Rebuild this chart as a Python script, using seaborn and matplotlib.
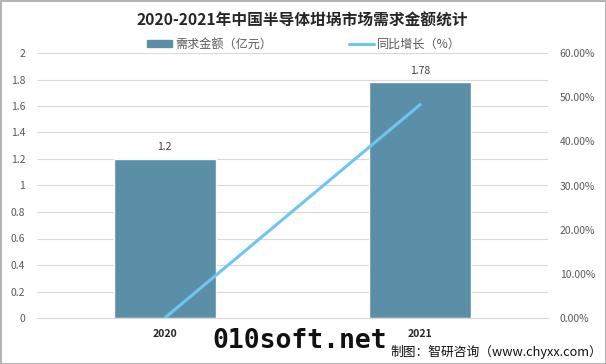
import matplotlib
matplotlib.use("Agg")
import matplotlib.pyplot as plt
import seaborn as sns
import pandas as pd
from matplotlib.patches import Rectangle
from matplotlib.lines import Line2D
from matplotlib.ticker import FuncFormatter, MultipleLocator

years = ["2020", "2021"]
demand = [1.2, 1.78]
growth = [0.0, 48.33]
demand_labels = ["1.2", "1.78"]

sns.set_style("white")
plt.rcParams['font.family'] = ['Noto Sans CJK SC', 'DejaVu Sans']

fig = plt.figure(figsize=(6.06, 3.64), dpi=100)
ax = fig.add_axes([37/606, 1-318/364, 511/606, 265/364])

df = pd.DataFrame({"year": years, "demand": demand})
bar_color = "#5B8FA7"
line_color = "#6DC6EE"
sns.barplot(data=df, x="year", y="demand", color=bar_color, width=0.4,
            saturation=1, ax=ax, zorder=2)
ax.set_xlim(-0.5, 1.5)
ax.set_ylim(0, 2)
ax.yaxis.set_major_locator(MultipleLocator(0.2))
ax.yaxis.set_major_formatter(FuncFormatter(lambda v, p: f"{v:.1f}".rstrip("0").rstrip(".") if v > 1e-9 else "0"))
ax.grid(axis="y", color="#D9D9D9", lw=0.8, zorder=0)
ax.set_xlabel("")
ax.set_ylabel("")
for s in ["top", "right", "left"]:
    ax.spines[s].set_visible(False)
ax.spines["bottom"].set_color("#D9D9D9")
ax.tick_params(axis="y", length=0, labelsize=7.5, labelcolor="#595959", pad=8.5)
ax.tick_params(axis="x", length=0, labelsize=7.5, pad=8)
for lab in ax.get_xticklabels():
    lab.set_fontweight("bold")
    lab.set_color("#262626")

for i, (v, t) in enumerate(zip(demand, demand_labels)):
    ax.text(i, v + 0.05, t, ha="center", va="bottom", fontsize=7.5, color="#404040")

ax2 = ax.twinx()
sns.lineplot(x=[0, 1], y=growth, color=line_color, lw=2.2, ax=ax2)
ax2.set_ylim(0, 60)
ax2.yaxis.set_major_locator(MultipleLocator(10))
ax2.yaxis.set_major_formatter(FuncFormatter(lambda v, p: f"{v:.2f}%"))
for s in ["top", "right", "left", "bottom"]:
    ax2.spines[s].set_visible(False)
ax2.tick_params(axis="y", length=0, labelsize=7.5, labelcolor="#595959", pad=8.5)
ax2.set_xlim(-0.5, 1.5)

fig.text(302.5/606, 1-21/364, "2020-2021年中国半导体坩埚市场需求金额统计", ha="center", va="center",
         fontsize=11.3, fontweight="bold", color="#262626")

handles = [Rectangle((0, 0), 1, 1, color=bar_color), Line2D([0], [0], color=line_color, lw=2.2)]
fig.legend(handles, ["需求金额（亿元）", "同比增长（%）"], loc="center", bbox_to_anchor=(304/606, 1-44/364),
           ncol=2, frameon=False, fontsize=8.7, labelcolor="#595959", columnspacing=6.4,
           handlelength=2.07, handleheight=0.5, handletextpad=0.25, borderpad=0, borderaxespad=0)

fig.text(212/606, 1-341/364, "010soft.net", ha="left", va="center", fontsize=19,
         fontweight="bold", family="DejaVu Sans Mono", color="#111111")
fig.text(602/606, 1-352/364, "制图：智研咨询（www.chyxx.com）", ha="right", va="center",
         fontsize=9.2, color="#111111")

fig.add_artist(Rectangle((0.5/606, 0.5/364), 1-1/606, 1-1/364, transform=fig.transFigure,
                         fill=False, edgecolor="#A6A6A6", lw=1.2))

fig.savefig("out.png", dpi=100)
